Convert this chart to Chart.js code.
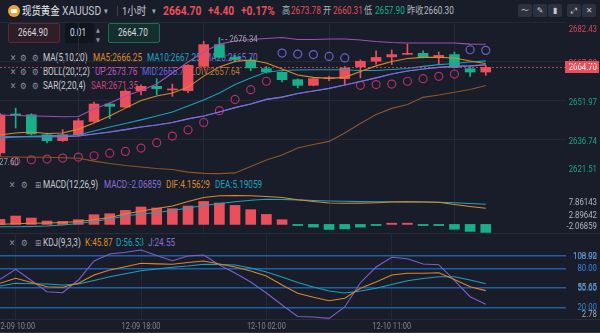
<!DOCTYPE html>
<html>
<head>
<meta charset="utf-8">
<title>现货黄金 XAUUSD 1小时</title>
<script src="https://cdn.jsdelivr.net/npm/chart.js@4.4.1/dist/chart.umd.min.js"></script>
<style>
  html, body { margin: 0; padding: 0; background: #181d29; }
  #wrap { position: relative; width: 600px; height: 333px; overflow: hidden; background: #181d29;
          font-family: Roboto, "Noto Sans CJK SC", sans-serif; }
  .t { position: absolute; white-space: nowrap; line-height: 12px; transform: scaleX(0.82);
       transform-origin: 0 50%; font-size: 10px; color: #c9ccd3; }
  .ic { font-family: "DejaVu Sans", sans-serif; color: #8d929c; font-size: 9px; }
  .box { position: absolute; top: 23px; height: 20px; box-sizing: border-box; border-radius: 2px; }
  .btn { position: absolute; top: 4px; width: 14px; height: 13px; background: #2b313d; border-radius: 2px;
         color: #c5c9d1; font: 8px "DejaVu Sans", sans-serif; line-height: 13px; text-align: center; }
  .sep { position: absolute; left: 0; width: 600px; height: 1px; background: #262c38; }
  canvas { position: absolute; left: 0; }
</style>
</head>
<body>
<div id="wrap">
  <!-- top bar -->
  <div style="position:absolute;left:8px;top:5px;width:12px;height:12px;border-radius:6px;background:#eda53a"></div>
  <div style="position:absolute;left:11px;top:9px;width:6px;height:4px;background:#fff;border-radius:1px"></div>
  <span class="t" style="left:22px;top:5px;font-size:11.5px;color:#eceef2">现货黄金</span>
  <span class="t" style="left:62px;top:5px;font-size:12.5px;color:#c3c7cf">XAUUSD</span>
  <span class="t ic" style="left:104px;top:5px;color:#a0a5ae">▾</span>
  <div style="position:absolute;left:117px;top:6px;width:1px;height:10px;background:#3b414d"></div>
  <span class="t" style="left:122px;top:5px;font-size:11.5px;color:#c3c7cf">1小时</span>
  <span class="t ic" style="left:152px;top:5px;color:#a0a5ae">▾</span>
  <span class="t" style="left:163px;top:5px;font-size:12.5px;font-weight:bold;color:#ec4f5b">2664.70</span>
  <span class="t" style="left:208px;top:5px;font-size:12.5px;font-weight:bold;color:#ec4f5b">+4.40</span>
  <span class="t" style="left:241px;top:5px;font-size:12.5px;font-weight:bold;color:#ec4f5b">+0.17%</span>
  <span class="t" style="left:282px;top:5px;color:#aeb2ba">高</span>
  <span class="t" style="left:291px;top:5px;color:#e44f5a">2673.78</span>
  <span class="t" style="left:323px;top:5px;color:#aeb2ba">开</span>
  <span class="t" style="left:333px;top:5px;color:#e44f5a">2660.31</span>
  <span class="t" style="left:364px;top:5px;color:#aeb2ba">低</span>
  <span class="t" style="left:375px;top:5px;color:#19ad88">2657.90</span>
  <span class="t" style="left:407px;top:5px;color:#aeb2ba">昨收</span>
  <span class="t" style="left:424px;top:5px;color:#b8bcc4">2660.30</span>
  <div class="btn" style="left:518px">〜</div>
  <div class="btn" style="left:533px">✎</div>
  <div class="btn" style="left:548px">▮</div>
  <div class="btn" style="left:567px">⤢</div>
  <div class="btn" style="left:582px">✕</div>

  <!-- order boxes -->
  <div class="box" style="left:8px;width:52px;background:#2d1e28;border:1px solid #5a2a35"></div>
  <div class="box" style="left:65px;width:29px;background:#10141c"></div>
  <div class="box" style="left:108px;width:52px;background:#15302c;border:1px solid #1d6b58"></div>
  <span class="t" style="left:18px;top:27px;color:#d9dbe0">2664.90</span>
  <span class="t" style="left:70px;top:27px;color:#d9dbe0">0.01</span>
  <span class="t ic" style="left:96px;top:24px;font-size:6px">▲</span>
  <span class="t ic" style="left:96px;top:34px;font-size:6px">▼</span>
  <span class="t" style="left:118px;top:27px;color:#d9dbe0">2664.70</span>

  <!-- indicator legends -->
  <span class="t ic" style="left:10px;top:52px">✕</span><span class="t ic" style="left:20px;top:52px">⚙</span><span class="t ic" style="left:32px;top:52px">⚙</span>
  <span class="t" style="left:43px;top:52px">MA(5,10,20)</span>
  <span class="t" style="left:93px;top:52px;color:#df8c2e">MA5:2666.25</span>
  <span class="t" style="left:147px;top:52px;color:#22a2c2">MA10:2667.25</span>
  <span class="t" style="left:204px;top:52px;color:#7f6fd6">MA20:2665.70</span>

  <span class="t ic" style="left:10px;top:66px">✕</span><span class="t ic" style="left:20px;top:66px">⚙</span><span class="t ic" style="left:32px;top:66px">⚙</span>
  <span class="t" style="left:43px;top:66px">BOLL(20,2,2)</span>
  <span class="t" style="left:95px;top:66px;color:#c052c0">UP:2673.76</span>
  <span class="t" style="left:142px;top:66px;color:#6266e2">MID:2665.70</span>
  <span class="t" style="left:191px;top:66px;color:#b8743a">LOW:2657.64</span>

  <span class="t ic" style="left:10px;top:80px">✕</span><span class="t ic" style="left:20px;top:80px">⚙</span><span class="t ic" style="left:32px;top:80px">⚙</span>
  <span class="t" style="left:43px;top:80px">SAR(2,20,4)</span>
  <span class="t" style="left:91px;top:80px;color:#d2417c">SAR:2671.35</span>

  <span class="t ic" style="left:9px;top:179px">✕</span><span class="t ic" style="left:21px;top:179px">⚙</span><span class="t ic" style="left:35px;top:179px">⊞</span>
  <span class="t" style="left:43px;top:179px">MACD(12,26,9)</span>
  <span class="t" style="left:104px;top:179px;color:#8a6fd6">MACD:-2.06859</span>
  <span class="t" style="left:166px;top:179px;color:#df8c2e">DIF:4.15629</span>
  <span class="t" style="left:215px;top:179px;color:#22a2c2">DEA:5.19059</span>

  <span class="t ic" style="left:9px;top:237px">✕</span><span class="t ic" style="left:21px;top:237px">⚙</span><span class="t ic" style="left:35px;top:237px">⊞</span>
  <span class="t" style="left:43px;top:237px">KDJ(9,3,3)</span>
  <span class="t" style="left:85px;top:237px;color:#df8c2e">K:45.87</span>
  <span class="t" style="left:116px;top:237px;color:#22a2c2">D:56.53</span>
  <span class="t" style="left:148px;top:237px;color:#8a6fd6">J:24.55</span>

  <div class="sep" style="top:233px"></div>
  <div class="sep" style="top:319px"></div>
  <div class="sep" style="top:332px;background:#4a2b24"></div>

  <canvas id="mainChart" width="600" height="178" style="top:0"></canvas>
  <canvas id="macdChart" width="600" height="55" style="top:178px"></canvas>
  <canvas id="kdjChart" width="600" height="100" style="top:233px"></canvas>
</div>

<script>
// candles, 1 hour each (06:00 is the daily break)
const times = [
  '12-09 09:00', '12-09 10:00', '12-09 11:00', '12-09 12:00', '12-09 13:00', '12-09 14:00',
  '12-09 15:00', '12-09 16:00', '12-09 17:00', '12-09 18:00', '12-09 19:00', '12-09 20:00',
  '12-09 21:00', '12-09 22:00', '12-09 23:00', '12-10 00:00', '12-10 01:00', '12-10 02:00',
  '12-10 03:00', '12-10 04:00', '12-10 05:00', '12-10 07:00', '12-10 08:00', '12-10 09:00',
  '12-10 10:00', '12-10 11:00', '12-10 12:00', '12-10 13:00', '12-10 14:00', '12-10 15:00',
  '12-10 16:00', '12-10 17:00'
];
const timeTicks = [1, 9, 17, 25];

const open  = [2631.3, 2646.5, 2646.2, 2638.4, 2636.1, 2638.4, 2643.6, 2650.4, 2649.2, 2655.6, 2657.3, 2655.9,
               2655.6, 2665.1, 2673.6, 2668.6, 2667.5, 2664.2, 2662.8, 2659.9, 2657.7, 2660.31, 2660.3, 2664.9,
               2667.1, 2668.8, 2669.8, 2670.2, 2668.6, 2669.7, 2664.2, 2662.9];
const high  = [2646.8, 2648.8, 2646.6, 2639.1, 2640.4, 2644.7, 2651.2, 2650.8, 2656.0, 2657.9, 2660.3, 2658.2,
               2665.8, 2674.9, 2676.34, 2669.5, 2668.4, 2665.1, 2663.0, 2660.2, 2660.5, 2661.2, 2665.1, 2667.7,
               2671.2, 2671.5, 2673.78, 2671.2, 2670.7, 2670.7, 2665.1, 2665.5];
const low   = [2630.2, 2641.0, 2638.3, 2635.2, 2635.8, 2638.0, 2643.2, 2644.7, 2649.0, 2654.0, 2654.0, 2653.4,
               2654.8, 2664.8, 2668.3, 2666.8, 2663.4, 2662.5, 2659.0, 2656.7, 2657.5, 2659.5, 2657.9, 2660.6,
               2666.0, 2665.8, 2669.7, 2668.4, 2665.8, 2664.5, 2661.2, 2661.6];
const close = [2646.1, 2646.0, 2638.7, 2636.1, 2638.4, 2643.9, 2650.4, 2649.5, 2655.4, 2657.3, 2656.4, 2656.1,
               2665.5, 2673.6, 2668.6, 2667.8, 2664.5, 2662.9, 2659.9, 2657.7, 2660.30, 2660.4, 2664.5, 2667.1,
               2668.6, 2669.7, 2670.0, 2668.6, 2669.4, 2664.7, 2662.9, 2664.70];

const ma5  = [2638.3, 2639.1, 2639.5, 2638.9, 2639.1, 2640.6, 2643.0, 2645.7, 2648.8, 2651.8, 2653.5, 2654.7,
              2657.0, 2661.3, 2664.9, 2667.0, 2667.6, 2666.4, 2664.1, 2661.7, 2660.8, 2660.4, 2660.8, 2663.1,
              2665.3, 2667.0, 2668.2, 2668.6, 2668.6, 2668.4, 2667.2, 2666.25];
const ma10 = [2637.1, 2637.5, 2637.8, 2638.0, 2638.2, 2638.3, 2639.9, 2641.4, 2642.8, 2644.2, 2645.7, 2647.3,
              2649.6, 2652.0, 2654.7, 2658.0, 2660.6, 2662.9, 2663.5, 2663.7, 2663.8, 2663.8, 2663.8, 2663.5,
              2663.5, 2663.9, 2664.3, 2665.1, 2665.8, 2666.2, 2666.8, 2667.25];
const ma20 = [2637.6, 2637.6, 2637.6, 2637.6, 2637.6, 2637.9, 2638.7, 2639.5, 2640.4, 2641.4, 2642.2, 2643.2,
              2644.6, 2645.7, 2647.3, 2649.0, 2650.4, 2652.2, 2653.1, 2654.5, 2655.5, 2656.5, 2657.8, 2659.2,
              2660.6, 2662.1, 2663.3, 2664.1, 2664.7, 2665.1, 2665.3, 2665.70];
const bollUp  = [2646.1, 2645.9, 2645.7, 2645.6, 2645.4, 2645.5, 2648.5, 2650.8, 2653.5, 2655.7, 2658.2, 2662.5,
                 2666.8, 2670.7, 2673.8, 2675.0, 2675.6, 2676.0, 2676.4, 2675.6, 2675.6, 2675.8, 2675.8, 2675.4,
                 2674.8, 2674.4, 2674.2, 2674.2, 2674.2, 2674.2, 2673.8, 2673.76];
const bollMid = ma20;
const bollLow = [2629.8, 2629.7, 2629.6, 2629.6, 2629.4, 2629.2, 2628.1, 2627.2, 2626.4, 2625.8, 2625.2, 2624.8,
                 2623.8, 2623.3, 2623.2, 2623.5, 2626.0, 2628.5, 2630.5, 2633.2, 2634.6, 2635.8, 2639.1, 2642.8,
                 2646.3, 2648.7, 2650.2, 2653.0, 2653.9, 2655.0, 2656.1, 2657.64];
const sar = [null, 2628.1, 2628.6, 2628.9, 2629.3, 2629.7, 2630.2, 2631.2, 2631.9, 2633.2, 2635.3, 2637.9,
             2640.3, 2643.2, 2647.8, 2652.2, 2656.0, 2659.3, 2670.3, 2669.9, 2669.7, 2669.0, 2668.4, 2657.7,
             2658.0, 2658.2, 2659.3, 2660.3, 2661.2, 2662.1, 2671.6, 2671.35];
const lowBeforeView = 2627.60;   // lowest low, candle just left of the view

const dif  = [0.03, 0.16, 0.28, 0.36, 0.49, 0.75, 1.19, 1.78, 2.69, 3.46, 4.11, 4.75, 5.92, 6.95, 7.42, 7.47,
              7.42, 7.21, 6.95, 6.36, 5.92, 5.53, 5.45, 5.45, 5.58, 5.79, 5.87, 5.79, 5.71, 5.14, 4.63, 4.15629];
const dea  = [-0.59, -0.59, -0.54, -0.41, -0.16, 0.23, 0.75, 1.40, 2.17, 2.69, 3.07, 3.59, 4.24, 4.88, 5.40, 5.84,
              6.23, 6.49, 6.43, 6.33, 6.18, 6.05, 5.97, 5.89, 5.87, 5.87, 5.84, 5.79, 5.71, 5.58, 5.40, 5.19059];
const macd = [1.29, 2.17, 1.65, 0.88, 0.78, 1.21, 2.51, 2.76, 3.62, 4.50, 4.24, 4.06, 4.75, 5.94, 5.53, 4.91,
              3.80, 2.58, 1.21, -0.20, -0.70, -1.30, -1.15, -0.70, -0.10, 0.10, 0.10, -0.10, -0.10, -1.25, -1.80, -2.06859];

const kK = [57.2, 65.0, 58.4, 51.9, 51.0, 57.2, 70.1, 77.8, 82.9, 88.2, 87.4, 86.7, 89.5, 91.8, 87.1, 82.5,
            76.3, 68.5, 54.6, 41.7, 35.5, 30.2, 34.0, 49.5, 59.2, 70.1, 72.7, 72.7, 73.6, 63.1, 51.9, 45.87];
const kD = [53.0, 57.2, 56.6, 56.1, 54.6, 56.1, 61.6, 67.4, 72.1, 76.7, 79.4, 82.0, 84.0, 86.7, 86.4, 85.6,
            80.9, 74.7, 67.0, 58.4, 51.5, 45.3, 42.2, 45.3, 49.5, 55.3, 61.2, 64.7, 67.4, 67.4, 62.3, 56.53];
const kJ = [63.4, 78.9, 61.6, 44.2, 42.6, 62.3, 91.8, 102.6, 105.3, 108.92, 100.3, 92.2, 99.5, 101.1, 85.6, 73.2,
            59.2, 42.2, 23.6, 5.7, 5.0, 2.78, 20.5, 58.1, 82.5, 97.5, 95.2, 87.1, 86.0, 61.6, 36.4, 24.55];

const priceTicks = [2682.43, 2667.20, 2651.97, 2636.74, 2621.51];
const macdTicks = [7.86143, 2.89642, -2.06859];
const kdjLevels = [100, 80, 50, 20];
const kdjMarks = [108.92, 55.65, 2.78];

const RED = '#e9505c', GREEN = '#17b08b', GRID = '#232935';
const SQ = 0.82;          // the screenshot is squeezed horizontally
const X_MAX = 36.12;

const pts = a => a.map((v, i) => ({ x: i, y: v }));
const candleColors = close.map((c, i) => c >= open[i] ? RED : GREEN);
const lastClose = close[close.length - 1];

function squeezed(ctx, text, x, y, align) {
  ctx.save();
  ctx.translate(x, y);
  ctx.scale(SQ, 1);
  ctx.textAlign = align;
  ctx.textBaseline = 'middle';
  ctx.fillText(text, 0, 0);
  ctx.restore();
}

function xScale() {
  return {
    type: 'linear', min: 0, max: X_MAX, offset: false,
    afterBuildTicks: s => { s.ticks = timeTicks.map(v => ({ value: v })); },
    afterFit: s => { s.height = 0; },
    ticks: { display: false },
    grid: { color: GRID, drawTicks: false },
    border: { display: false }
  };
}

function yScale(min, max, ticks, grid) {
  return {
    position: 'right', min, max,
    afterBuildTicks: s => { s.ticks = ticks.map(v => ({ value: v })); },
    afterFit: s => { s.width = 34; },
    ticks: { display: false },
    grid: Object.assign({ drawTicks: false }, grid),
    border: { display: false }
  };
}

function options(padding, scales) {
  return {
    responsive: false, animation: false, events: [],
    layout: { padding, autoPadding: false },
    plugins: { legend: { display: false }, tooltip: { enabled: false } },
    scales
  };
}

function line(data, color, order) {
  return { type: 'line', data: pts(data), borderColor: color, borderWidth: 1.1,
           pointRadius: 0, order: order || 0 };
}

// right side value labels
function rightLabels(items) {
  return {
    id: 'rightLabels',
    afterDraw(chart) {
      const ctx = chart.ctx, y = chart.scales.y;
      ctx.save();
      ctx.font = '9.5px Roboto';
      items.forEach(it => {
        ctx.fillStyle = it.color;
        squeezed(ctx, it.text, 597, y.getPixelForValue(it.value) + it.dy, 'right');
      });
      ctx.restore();
    }
  };
}

const mainDy = [8, 2.5, 2.5, 2.5, -8];
const mainLabels = priceTicks.map((v, i) => ({
  value: v, text: v.toFixed(2), dy: mainDy[i], color: v > lastClose ? '#d84a55' : '#1ca684'
}));

const mainMarks = {
  id: 'mainMarks',
  afterDatasetsDraw(chart) {
    const { ctx, chartArea: a, scales: { x, y } } = chart;
    ctx.save();
    ctx.font = '9.5px Roboto';
    ctx.fillStyle = '#9ba0a8';
    ctx.strokeStyle = '#9ba0a8';
    ctx.lineWidth = 1;
    ctx.setLineDash([2, 2]);
    // highest high in view
    const hi = Math.max(...high), hx = x.getPixelForValue(high.indexOf(hi)), hy = y.getPixelForValue(hi) + 2;
    ctx.beginPath(); ctx.moveTo(hx + 2, hy); ctx.lineTo(hx + 9, hy); ctx.stroke();
    squeezed(ctx, hi.toFixed(2), hx + 10, hy, 'left');
    // lowest low just left of the view
    const lx = x.getPixelForValue(-1), ly = y.getPixelForValue(lowBeforeView);
    ctx.beginPath(); ctx.moveTo(lx - 2, ly); ctx.lineTo(lx + 5, ly); ctx.stroke();
    squeezed(ctx, lowBeforeView.toFixed(2), lx + 6, ly, 'left');
    // last price line
    const py = Math.round(y.getPixelForValue(lastClose)) + 0.5;
    ctx.strokeStyle = 'rgba(233,80,92,0.75)';
    ctx.beginPath(); ctx.moveTo(a.left, py); ctx.lineTo(a.right, py); ctx.stroke();
    ctx.restore();
  },
  afterDraw(chart) {
    const { ctx, scales: { y } } = chart;
    const py = y.getPixelForValue(lastClose);
    ctx.save();
    ctx.fillStyle = RED;
    ctx.fillRect(565, Math.round(py) - 6, 34, 12);
    ctx.fillStyle = '#ffffff';
    ctx.font = '9.5px Roboto';
    squeezed(ctx, lastClose.toFixed(2), 597, py + 0.5, 'right');
    ctx.restore();
  }
};

new Chart(document.getElementById('mainChart'), {
  type: 'line',
  data: {
    datasets: [
      line(ma5, '#d98a2c'),
      line(ma10, '#1f9dbb'),
      line(ma20, '#7f6fd6'),
      line(bollMid, '#5d60d8'),
      line(bollUp, '#a14fb3'),
      line(bollLow, '#8f5429'),
      {
        type: 'line', data: pts(sar), showLine: false, pointRadius: 4, pointBorderWidth: 1.2,
        pointBackgroundColor: 'rgba(0,0,0,0)',
        pointBorderColor: sar.map((v, i) => v > close[i] ? '#6e60cc' : '#b32f69'),
        order: 1
      },
      {
        type: 'bar', data: open.map((o, i) => ({ x: i, y: [o, close[i]] })),
        backgroundColor: candleColors, barThickness: 10, minBarLength: 1, grouped: false, order: 2
      },
      {
        type: 'bar', data: low.map((l, i) => ({ x: i, y: [l, high[i]] })),
        backgroundColor: candleColors, barThickness: 1, grouped: false, order: 3
      }
    ]
  },
  options: options({ top: 22, left: 0, right: 0, bottom: 0 }, {
    x: xScale(),
    y: yScale(priceTicks[4], priceTicks[0], priceTicks, { color: GRID })
  }),
  plugins: [mainMarks, rightLabels(mainLabels)]
});

const macdDy = [9, 2.5, -5.5];
new Chart(document.getElementById('macdChart'), {
  type: 'line',
  data: {
    datasets: [
      line(dif, '#d98a33'),
      line(dea, '#22a1bf'),
      {
        type: 'bar', data: pts(macd), backgroundColor: macd.map(v => v >= 0 ? RED : GREEN),
        barThickness: 10, minBarLength: 1.2, grouped: false, order: 2
      }
    ]
  },
  options: options(0, {
    x: xScale(),
    y: yScale(-2.22, 11.99, macdTicks, { display: false })
  }),
  plugins: [rightLabels(macdTicks.map((v, i) => ({
    value: v, text: v.toFixed(5), dy: macdDy[i], color: '#b3b7bf'
  })))]
});

const kdjDy = [6.5, 3.5, -3.5];
const kdjLabels = kdjMarks.map((v, i) => ({ value: v, text: v.toFixed(2), dy: kdjDy[i], color: '#a4a8b0' }))
  .concat(kdjLevels.map(v => ({ value: v, text: v.toFixed(2), dy: 0.5, color: '#3a86dc' })));

const timeLabels = {
  id: 'timeLabels',
  afterDraw(chart) {
    const { ctx, scales: { x } } = chart;
    ctx.save();
    ctx.font = '9px Roboto';
    ctx.fillStyle = '#80858f';
    timeTicks.forEach(i => squeezed(ctx, times[i], x.getPixelForValue(i), 94, 'center'));
    ctx.restore();
  }
};

new Chart(document.getElementById('kdjChart'), {
  type: 'line',
  data: {
    datasets: [
      line(kK, '#d7862f'),
      line(kD, '#1f9fbf'),
      line(kJ, '#7d60c9')
    ]
  },
  options: options({ top: 0, left: 0, right: 0, bottom: 14 }, {
    x: xScale(),
    y: yScale(1.86, 135.2, kdjLevels, { color: '#1f5fa6', lineWidth: 1.4 })
  }),
  plugins: [rightLabels(kdjLabels), timeLabels]
});
</script>
</body>
</html>
